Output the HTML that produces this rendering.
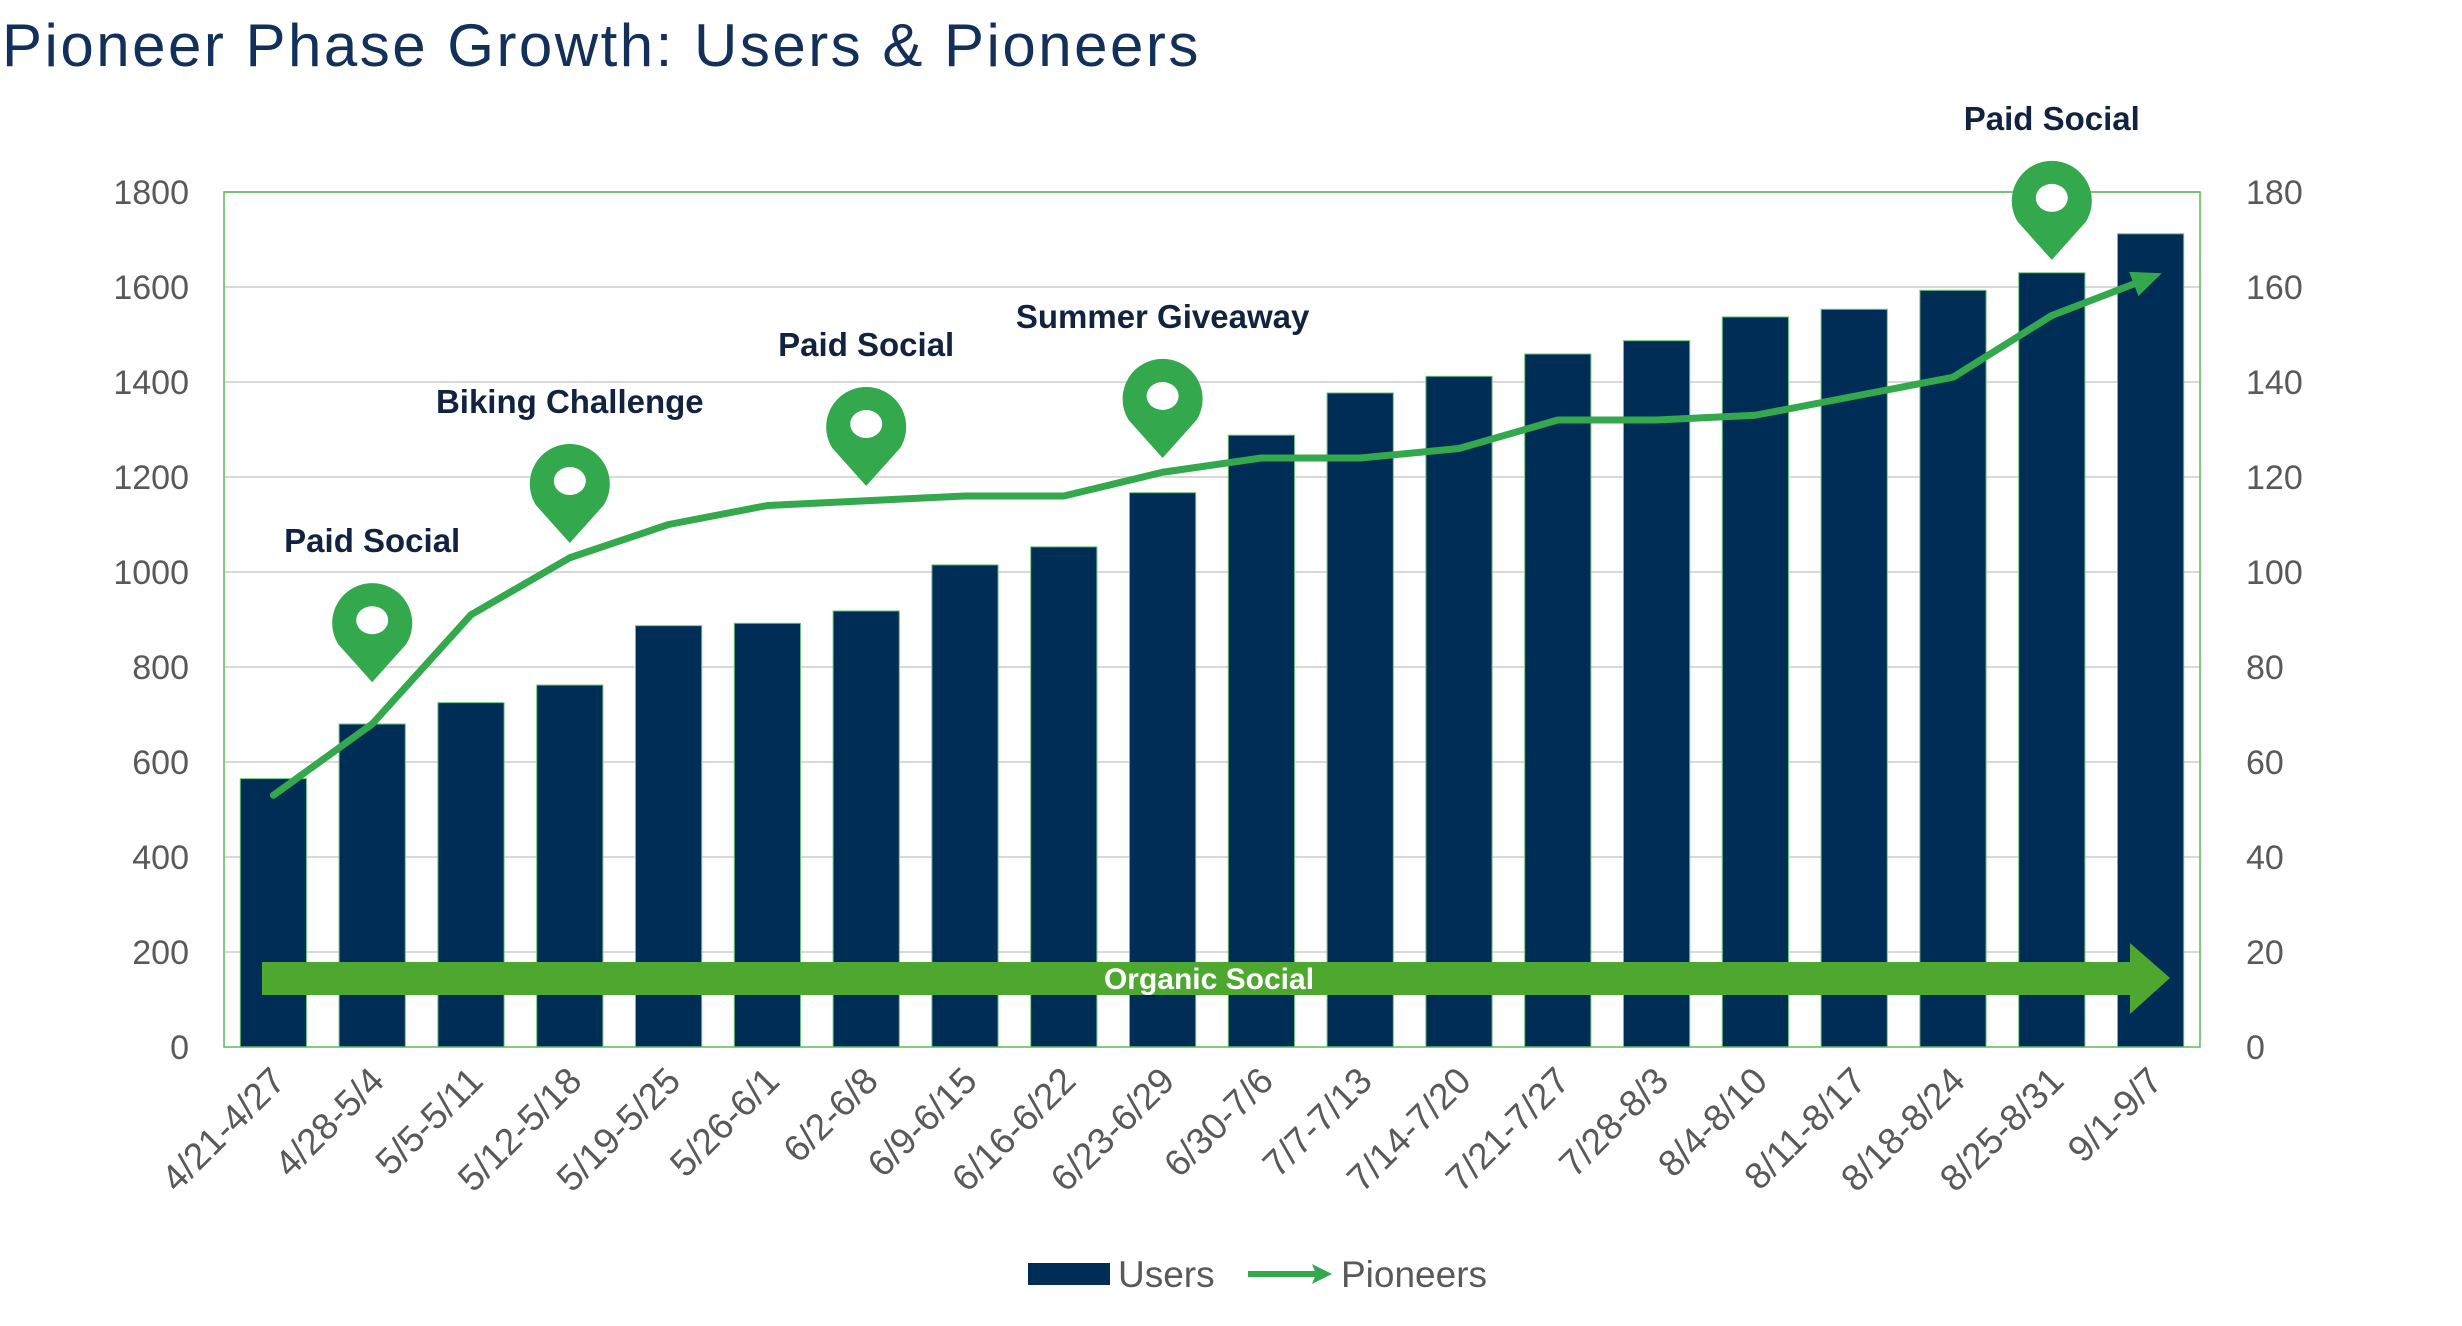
<!DOCTYPE html>
<html><head><meta charset="utf-8">
<style>
html,body{margin:0;padding:0;background:#fff;}
svg{display:block;font-family:"Liberation Sans",sans-serif;}
</style></head>
<body>
<svg id="chart" width="2462" height="1326" viewBox="0 0 2462 1326" xmlns="http://www.w3.org/2000/svg">
<text x="2" y="66" font-size="60" letter-spacing="2.5" fill="#12305a">Pioneer Phase Growth: Users &amp; Pioneers</text>
<g id="grid"></g>
<g id="bars"></g>
<g id="axes"></g>
<g id="organic"></g>
<g id="line"></g>
<g id="pins"></g>
<g id="legend">
  <rect x="1028" y="1263" width="82" height="22" fill="#002d56"/>
  <text x="1118" y="1287" font-size="37" fill="#595959">Users</text>
  <line x1="1248" y1="1274" x2="1320" y2="1274" stroke="#34a84c" stroke-width="6"/>
  <polygon points="1332,1274 1312,1264 1316,1274 1312,1284" fill="#34a84c"/>
  <text x="1341" y="1287" font-size="37" fill="#595959">Pioneers</text>
</g>
</svg>
<script>
const categories = ["4/21-4/27","4/28-5/4","5/5-5/11","5/12-5/18","5/19-5/25","5/26-6/1","6/2-6/8","6/9-6/15","6/16-6/22","6/23-6/29","6/30-7/6","7/7-7/13","7/14-7/20","7/21-7/27","7/28-8/3","8/4-8/10","8/11-8/17","8/18-8/24","8/25-8/31","9/1-9/7"];
const users = [565,680,725,762,887,892,918,1015,1053,1167,1288,1377,1412,1459,1487,1537,1553,1593,1630,1712];
const pioneers = [53,68,91,103,110,114,115,116,116,121,124,124,126,132,132,133,137,141,154,162];
const leftTicks = [0,200,400,600,800,1000,1200,1400,1600,1800];
const rightTicks = [0,20,40,60,80,100,120,140,160,180];
const pinIndices = [1,3,6,9,18];
const pinLabels = ["Paid Social","Biking Challenge","Paid Social","Summer Giveaway","Paid Social"];
const pinValues = [768,1061,1181,1240,1657];

const NS="http://www.w3.org/2000/svg";
const L=224,R=2200,T=192,B=1047;
const band=(R-L)/categories.length;
const xc=i=>L+band*(i+0.5);
const yL=v=>B-(v/1800)*(B-T);
const yR=v=>B-(v/180)*(B-T);
function mk(tag,attrs,parent){const e=document.createElementNS(NS,tag);for(const k in attrs)e.setAttribute(k,attrs[k]);parent.appendChild(e);return e;}
const grid=document.getElementById('grid'),bars=document.getElementById('bars'),axes=document.getElementById('axes');
leftTicks.forEach((t,i)=>{
  if(t>0){const g=mk('line',{x1:L,x2:R,y1:yL(t),y2:yL(t),stroke:'#d9d9d9','stroke-width':2},grid);
  
  }
  const tx=mk('text',{x:189,y:yL(t)+12,'text-anchor':'end','font-size':34,fill:'#595959'},axes);
  tx.textContent=t;
  
  
});
rightTicks.forEach(t=>{
  const tx=mk('text',{x:2246,y:yR(t)+12,'font-size':34,fill:'#595959'},axes);
  tx.textContent=t;
  
  
});
const frame=mk('rect',{x:L,y:T,width:R-L,height:B-T,fill:'none',stroke:'#5cb85c','stroke-width':1.5},axes);


const bw=band*0.67;
users.forEach((v,i)=>{
  const r=mk('rect',{x:xc(i)-bw/2,y:yL(v),width:bw,height:B-yL(v),fill:'#002d56',stroke:'#6fc27a','stroke-width':1},bars);
  
  
  const lx=xc(i)+14,ly=B+36;
  const tx=mk('text',{x:lx,y:ly,'text-anchor':'end','font-size':37,fill:'#595959',transform:`rotate(-45 ${lx} ${ly})`},axes);
  tx.textContent=categories[i];
  
  
});
const org=document.getElementById('organic');
const oa=mk('polygon',{points:`262,962 2130,962 2130,943 2170,978 2130,1014 2130,995 262,995`,fill:'#4ea72e'},org);


const ot=mk('text',{x:1209,y:989,'text-anchor':'middle','font-size':30,'font-weight':'bold',fill:'#fff'},org);
ot.textContent='Organic Social';


const lg=document.getElementById('line');
const pts=pioneers.map((v,i)=>[xc(i),yR(v)]);
const n=pts.length,last=pts[n-1],prev=pts[n-2];
const ang=Math.atan2(last[1]-prev[1],last[0]-prev[0]);
const end=[last[0]+Math.cos(ang)*12,last[1]+Math.sin(ang)*12];
const shaftEnd=[end[0]-Math.cos(ang)*22,end[1]-Math.sin(ang)*22];
const pl=mk('polyline',{points:pts.slice(0,n-1).map(p=>p.join(',')).join(' ')+' '+shaftEnd.join(','),fill:'none',stroke:'#34a84c','stroke-width':7,'stroke-linejoin':'round','stroke-linecap':'round'},lg);


const px=-Math.sin(ang),py=Math.cos(ang);
const b=[end[0]-Math.cos(ang)*30,end[1]-Math.sin(ang)*30];
const ah=mk('polygon',{points:`${end[0]},${end[1]} ${b[0]+px*13},${b[1]+py*13} ${b[0]-px*13},${b[1]-py*13}`,fill:'#34a84c'},lg);


const pg=document.getElementById('pins');
pinIndices.forEach((ci,k)=>{
  const cx=xc(ci),tip=yL(pinValues[k]);
  const top=tip-100,r=40,cy=top+r;
  const g=mk('g',{},pg);
  
  
  mk('path',{d:`M${cx},${tip} L${cx-34},${cy+22} A${r},${r} 0 1 1 ${cx+34},${cy+22} Z`,fill:'#34a84c'},g);
  mk('ellipse',{cx:cx,cy:cy-2,rx:16,ry:14,fill:'#fff'},g);
  const t=mk('text',{x:cx,y:top-30,'text-anchor':'middle','font-size':33,'font-weight':'bold',fill:'#12233f'},pg);
  t.textContent=pinLabels[k];
  
  
});
</script>
</body></html>
